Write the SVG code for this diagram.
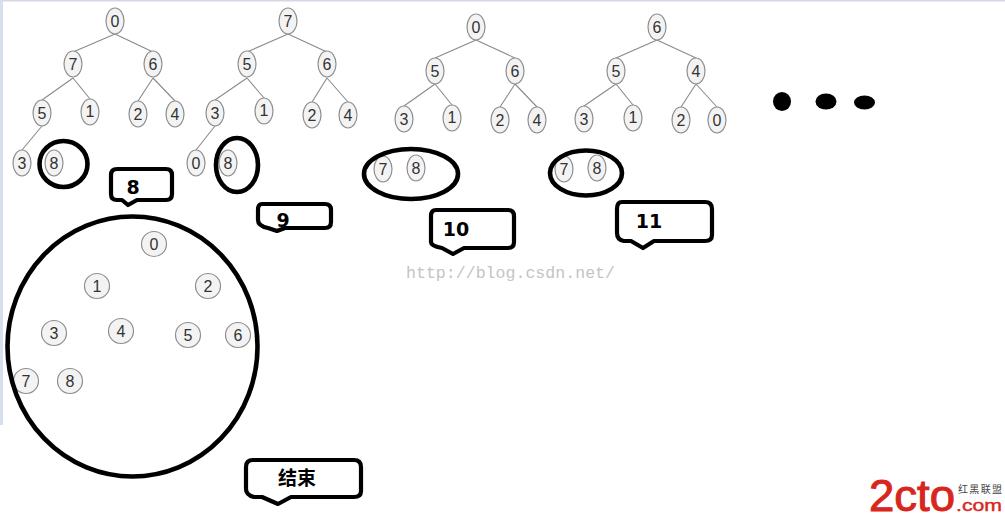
<svg xmlns="http://www.w3.org/2000/svg" width="1005" height="522" viewBox="0 0 1005 522">
<style>
.n ellipse{fill:#f3f3f3;stroke:#8f8f8f;stroke-width:1.2}
.n text{font:16px "Liberation Sans",Arial,sans-serif;fill:#333;text-anchor:middle}
.e line{stroke:#8a8a8a;stroke-width:1.1}
.mark{fill:none;stroke:#000;stroke-width:4.600}
.call{fill:#fff;stroke:#000;stroke-width:4.200;stroke-linejoin:round}
.lab{font:bold 19px "DejaVu Sans",sans-serif;fill:#000;text-anchor:middle}
</style>
<rect width="1005" height="522" fill="#fff"/>
<rect x="0" y="0" width="1005" height="1.5" fill="#d5d8e4"/>
<rect x="0" y="0" width="3" height="425" fill="#d6e0ec"/>
<g id="connectors" class="e">
<line x1="115" y1="34" x2="73" y2="52"/><line x1="115" y1="34" x2="153" y2="52"/><line x1="73" y1="78" x2="42" y2="100"/><line x1="73" y1="78" x2="90" y2="99"/><line x1="153" y1="78" x2="138" y2="101"/><line x1="153" y1="78" x2="175" y2="101"/><line x1="42" y1="126" x2="22" y2="150"/>
<line x1="288" y1="34" x2="247" y2="52"/><line x1="288" y1="34" x2="327" y2="52"/><line x1="247" y1="78" x2="215" y2="100"/><line x1="247" y1="78" x2="264" y2="98"/><line x1="327" y1="78" x2="312" y2="102"/><line x1="327" y1="78" x2="348" y2="102"/><line x1="215" y1="126" x2="196" y2="150"/>
<line x1="476" y1="40" x2="435" y2="58"/><line x1="476" y1="40" x2="515" y2="58"/><line x1="435" y1="84" x2="404" y2="106"/><line x1="435" y1="84" x2="452" y2="105"/><line x1="515" y1="84" x2="500" y2="107"/><line x1="515" y1="84" x2="537" y2="107"/>
<line x1="657" y1="40" x2="616" y2="58"/><line x1="657" y1="40" x2="696" y2="58"/><line x1="616" y1="84" x2="584" y2="106"/><line x1="616" y1="84" x2="633" y2="105"/><line x1="696" y1="84" x2="681" y2="107"/><line x1="696" y1="84" x2="717" y2="107"/>
</g>
<g id="tree1" class="n">
<g id="t1n0"><ellipse cx="115" cy="21" rx="9" ry="13"/><text x="115" y="27">0</text></g>
<g id="t1n7"><ellipse cx="73" cy="64" rx="9" ry="13"/><text x="73" y="70">7</text></g>
<g id="t1n6"><ellipse cx="153" cy="64" rx="9" ry="13"/><text x="153" y="70">6</text></g>
<g id="t1n5"><ellipse cx="42" cy="113" rx="9" ry="13"/><text x="42" y="119">5</text></g>
<g id="t1n1"><ellipse cx="90" cy="112" rx="9" ry="13"/><text x="90" y="117">1</text></g>
<g id="t1n2"><ellipse cx="138" cy="114" rx="9" ry="13"/><text x="138" y="120">2</text></g>
<g id="t1n4"><ellipse cx="175" cy="114" rx="9" ry="13"/><text x="175" y="120">4</text></g>
<g id="t1n3"><ellipse cx="22" cy="163" rx="9" ry="13"/><text x="22" y="169">3</text></g>
<g id="t1n8"><ellipse cx="54" cy="163" rx="9" ry="13"/><text x="54" y="169">8</text></g>
</g>
<g id="tree2" class="n">
<g id="t2n7"><ellipse cx="288" cy="21" rx="9" ry="13"/><text x="288" y="27">7</text></g>
<g id="t2n5"><ellipse cx="247" cy="64" rx="9" ry="13"/><text x="247" y="70">5</text></g>
<g id="t2n6"><ellipse cx="327" cy="64" rx="9" ry="13"/><text x="327" y="70">6</text></g>
<g id="t2n3"><ellipse cx="215" cy="113" rx="9" ry="13"/><text x="215" y="119">3</text></g>
<g id="t2n1"><ellipse cx="264" cy="111" rx="9" ry="13"/><text x="264" y="116">1</text></g>
<g id="t2n2"><ellipse cx="312" cy="115" rx="9" ry="13"/><text x="312" y="121">2</text></g>
<g id="t2n4"><ellipse cx="348" cy="115" rx="9" ry="13"/><text x="348" y="121">4</text></g>
<g id="t2n0"><ellipse cx="196" cy="163" rx="9" ry="13"/><text x="196" y="169">0</text></g>
<g id="t2n8"><ellipse cx="228" cy="163" rx="9" ry="13"/><text x="228" y="169">8</text></g>
</g>
<g id="tree3" class="n">
<g id="t3n0"><ellipse cx="476" cy="27" rx="9" ry="13"/><text x="476" y="33">0</text></g>
<g id="t3n5"><ellipse cx="435" cy="71" rx="9" ry="13"/><text x="435" y="77">5</text></g>
<g id="t3n6"><ellipse cx="515" cy="71" rx="9" ry="13"/><text x="515" y="77">6</text></g>
<g id="t3n3"><ellipse cx="404" cy="119" rx="9" ry="13"/><text x="404" y="125">3</text></g>
<g id="t3n1"><ellipse cx="452" cy="118" rx="9" ry="13"/><text x="452" y="123">1</text></g>
<g id="t3n2"><ellipse cx="500" cy="120" rx="9" ry="13"/><text x="500" y="126">2</text></g>
<g id="t3n4"><ellipse cx="537" cy="120" rx="9" ry="13"/><text x="537" y="126">4</text></g>
<g id="t3n7"><ellipse cx="383" cy="169" rx="9" ry="13"/><text x="383" y="175">7</text></g>
<g id="t3n8"><ellipse cx="416" cy="168" rx="9" ry="13"/><text x="416" y="174">8</text></g>
</g>
<g id="tree4" class="n">
<g id="t4n6"><ellipse cx="657" cy="27" rx="9" ry="13"/><text x="657" y="33">6</text></g>
<g id="t4n5"><ellipse cx="616" cy="71" rx="9" ry="13"/><text x="616" y="77">5</text></g>
<g id="t4n4"><ellipse cx="696" cy="71" rx="9" ry="13"/><text x="696" y="77">4</text></g>
<g id="t4n3"><ellipse cx="584" cy="119" rx="9" ry="13"/><text x="584" y="125">3</text></g>
<g id="t4n1"><ellipse cx="633" cy="118" rx="9" ry="13"/><text x="633" y="123">1</text></g>
<g id="t4n2"><ellipse cx="681" cy="120" rx="9" ry="13"/><text x="681" y="126">2</text></g>
<g id="t4n0"><ellipse cx="717" cy="120" rx="9" ry="13"/><text x="717" y="126">0</text></g>
<g id="t4n7"><ellipse cx="564" cy="169" rx="9" ry="13"/><text x="564" y="175">7</text></g>
<g id="t4n8"><ellipse cx="597" cy="168" rx="9" ry="13"/><text x="597" y="174">8</text></g>
</g>
<g id="final" class="n">
<g id="f0"><ellipse cx="154" cy="244" rx="12.5" ry="12.5"/><text x="154" y="250">0</text></g>
<g id="f1"><ellipse cx="97" cy="286" rx="12.5" ry="12.5"/><text x="97" y="292">1</text></g>
<g id="f2"><ellipse cx="208" cy="286" rx="12.5" ry="12.5"/><text x="208" y="292">2</text></g>
<g id="f3"><ellipse cx="54" cy="333" rx="12.5" ry="12.5"/><text x="54" y="339">3</text></g>
<g id="f4"><ellipse cx="121" cy="331" rx="12.5" ry="12.5"/><text x="121" y="337">4</text></g>
<g id="f5"><ellipse cx="188" cy="335" rx="12.5" ry="12.5"/><text x="188" y="341">5</text></g>
<g id="f6"><ellipse cx="238" cy="335" rx="12.5" ry="12.5"/><text x="238" y="341">6</text></g>
<g id="f7"><ellipse cx="26" cy="381" rx="12.5" ry="12.5"/><text x="26" y="387">7</text></g>
<g id="f8"><ellipse cx="70" cy="381" rx="12.5" ry="12.5"/><text x="70" y="387">8</text></g>
</g>
<g id="marks">
<ellipse class="mark" cx="63.500" cy="164" rx="24" ry="23"/>
<ellipse class="mark" cx="237" cy="165" rx="21" ry="27"/>
<ellipse class="mark" cx="411" cy="174" rx="47" ry="25"/>
<ellipse class="mark" cx="586" cy="173" rx="36" ry="22.500"/>
<ellipse class="mark" cx="132.500" cy="346.500" rx="125" ry="130"/>
</g>
<g id="callout8"><path class="call" d="M117 169H166Q172 169 172 175V194Q172 200 166 200H137L128 205L122 200H117Q111 200 111 194V175Q111 169 117 169Z"/><text class="lab" x="133" y="194">8</text></g>
<g id="callout9"><path class="call" d="M262 204H325Q331 204 331 210V222Q331 228 325 228H285L277 231L268 228Q258 226 258 220V210Q258 204 262 204Z"/><text class="lab" x="283" y="227">9</text></g>
<g id="callout10"><path class="call" d="M436 210H508Q514 210 514 216V242Q514 248 508 248H464L453 254L442 248Q431 246 431 242V216Q431 210 436 210Z"/><text class="lab" x="456" y="236">10</text></g>
<g id="callout11"><path class="call" d="M622 202H705Q712 202 712 209V235Q712 241 705 241H654L643 248L631 241H624Q617 240 617 233V209Q617 202 622 202Z"/><text class="lab" x="649" y="228">11</text></g>
<g id="calloutEnd"><path class="call" d="M253 460H354Q361 460 361 467V491Q361 497 354 497H291L278 504L262 497H254Q246 495 246 489V467Q246 460 253 460Z"/><text x="297" y="485" text-anchor="middle" font-family="'Noto Sans CJK SC',sans-serif" font-size="19" font-weight="700" fill="#000">结束</text></g>
<g id="dots" fill="#000">
<ellipse cx="782" cy="101.500" rx="9" ry="9.500"/><ellipse cx="826" cy="101.500" rx="10.500" ry="8"/><ellipse cx="864.500" cy="102.500" rx="10.500" ry="7"/>
</g>
<text id="watermark" x="406" y="278" font-family="'Liberation Mono',monospace" font-size="16.600" fill="#c4c4c4" textLength="209" lengthAdjust="spacingAndGlyphs">http://blog.csdn.net/</text>
<g id="logo">
<text x="869" y="511" font-family="'Liberation Sans',Arial,sans-serif" font-size="44" fill="#d8261c" stroke="#d8261c" stroke-width="1" textLength="86" lengthAdjust="spacingAndGlyphs">2cto</text>
<text x="956" y="511" font-family="'Liberation Sans',Arial,sans-serif" font-size="17" fill="#d8261c" stroke="#d8261c" stroke-width="0.400" textLength="46" lengthAdjust="spacingAndGlyphs">.com</text>
<text x="958" y="493" font-family="'Noto Sans CJK SC',sans-serif" font-size="10" fill="#444" textLength="44" lengthAdjust="spacing">红黑联盟</text>
</g>
</svg>
